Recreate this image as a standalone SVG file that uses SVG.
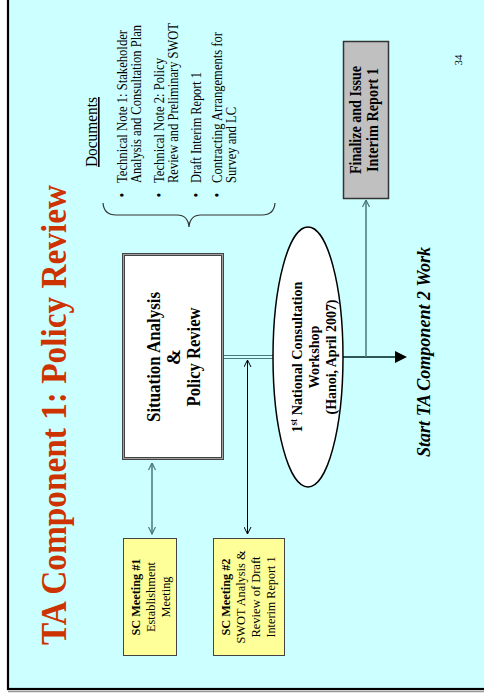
<svg xmlns="http://www.w3.org/2000/svg" width="484" height="700" viewBox="0 0 484 700">
  <style>
    text { font-family: "Liberation Serif", "Times New Roman", serif; fill: #000; }
    .b { font-weight: bold; }
    .title { font-size: 36px; font-weight: bold; fill: #CC3300; }
    .doc { font-size: 14px; }
    .sc { font-size: 13px; }
    .teal { stroke: #4A7777; fill: none; }
    .blk { stroke: #000; fill: none; }
  </style>
  <defs>
    <marker id="chevTeal" viewBox="0 0 8 8" refX="7.5" refY="4" markerWidth="8" markerHeight="8" markerUnits="userSpaceOnUse" orient="auto-start-reverse">
      <path d="M0.5,0.5 L7.5,4 L0.5,7.5" fill="none" stroke="#4A7777" stroke-width="1.2"/>
    </marker>
    <marker id="chevBlack" viewBox="0 0 8 8" refX="7.5" refY="4" markerWidth="8" markerHeight="8" markerUnits="userSpaceOnUse" orient="auto-start-reverse">
      <path d="M0.5,0.5 L7.5,4 L0.5,7.5" fill="none" stroke="#000" stroke-width="1"/>
    </marker>
  </defs>

  <!-- page and slide background -->
  <rect x="0" y="0" width="484" height="700" fill="#FFFFFF"/>
  <line x1="8" y1="691.5" x2="484" y2="691.5" stroke="#999" stroke-width="1.5"/>
  <rect x="8" y="-10" width="490" height="699" fill="#CCFFFF" stroke="#000" stroke-width="2.2"/>

  <!-- title -->
  <text class="title" transform="translate(66,645) rotate(-90)" textLength="460" lengthAdjust="spacingAndGlyphs">TA Component 1: Policy Review</text>

  <!-- page number -->
  <text transform="translate(462,60) rotate(-90)" text-anchor="middle" font-size="11" fill="#333">34</text>

  <!-- connectors -->
  <g id="connectors">
    <line x1="223" y1="355.5" x2="276" y2="355.5" stroke="#4A7777" stroke-width="1"/>
    <line x1="223" y1="358.5" x2="276" y2="358.5" stroke="#4A7777" stroke-width="1"/>
    <line x1="340" y1="357" x2="396" y2="357" stroke="#2F5555" stroke-width="2"/>
    <polygon points="395,351 407,357 395,363" fill="#000"/>
    <line class="teal" x1="366" y1="357" x2="366" y2="200" stroke-width="1.5" marker-end="url(#chevTeal)"/>
    <line class="teal" x1="152" y1="463" x2="152" y2="534" stroke-width="1.5" marker-start="url(#chevTeal)" marker-end="url(#chevTeal)"/>
    <line class="blk" x1="247.5" y1="360" x2="247.5" y2="534" stroke-width="1" marker-start="url(#chevBlack)" marker-end="url(#chevBlack)"/>
  </g>

  <!-- documents list -->
  <g id="documents">
    <text transform="translate(97,132) rotate(-90)" text-anchor="middle" font-size="16" text-decoration="underline" textLength="70" lengthAdjust="spacingAndGlyphs">Documents</text>
    <text class="doc" transform="translate(126.5,197.5) rotate(-90)">•</text>
    <text class="doc" transform="translate(126.5,183) rotate(-90)" textLength="153" lengthAdjust="spacingAndGlyphs">Technical Note 1: Stakeholder</text>
    <text class="doc" transform="translate(140.5,183) rotate(-90)" textLength="158" lengthAdjust="spacingAndGlyphs">Analysis and Consultation Plan</text>
    <text class="doc" transform="translate(163.5,197.5) rotate(-90)">•</text>
    <text class="doc" transform="translate(163.5,183) rotate(-90)" textLength="125" lengthAdjust="spacingAndGlyphs">Technical Note 2: Policy</text>
    <text class="doc" transform="translate(177.5,183) rotate(-90)" textLength="160" lengthAdjust="spacingAndGlyphs">Review and Preliminary SWOT</text>
    <text class="doc" transform="translate(200.5,197.5) rotate(-90)">•</text>
    <text class="doc" transform="translate(200.5,183) rotate(-90)" textLength="111" lengthAdjust="spacingAndGlyphs">Draft Interim Report 1</text>
    <text class="doc" transform="translate(222,197.5) rotate(-90)">•</text>
    <text class="doc" transform="translate(222,183) rotate(-90)" textLength="151" lengthAdjust="spacingAndGlyphs">Contracting Arrangements for</text>
    <text class="doc" transform="translate(236,183) rotate(-90)" textLength="76" lengthAdjust="spacingAndGlyphs">Survey and LC</text>
    <path d="M103,203 Q104,215 116,215 L177,215 Q188,215 189,227 Q190,215 201,215 L262,215 Q274,215 275,203" fill="none" stroke="#333" stroke-width="1.2"/>
  </g>

  <!-- situation analysis box -->
  <g id="situation">
    <rect x="123.5" y="254.5" width="99" height="204" fill="#FFFFFF" stroke="#444" stroke-width="3"/>
    <rect x="123.5" y="254.5" width="99" height="204" fill="none" stroke="#A0A0A0" stroke-width="1"/>
    <g transform="translate(0,357) rotate(-90)" text-anchor="middle" font-size="19">
      <text class="b" x="0" y="160" textLength="130" lengthAdjust="spacingAndGlyphs">Situation Analysis</text>
      <text class="b" x="0" y="180">&amp;</text>
      <text class="b" x="0" y="200" textLength="99" lengthAdjust="spacingAndGlyphs">Policy Review</text>
    </g>
  </g>

  <!-- consultation workshop -->
  <g id="workshop">
    <ellipse cx="308" cy="357" rx="35" ry="130" fill="#FFFFFF" stroke="#000" stroke-width="1.5"/>
    <g transform="translate(0,357) rotate(-90)" text-anchor="middle" font-size="15">
      <text class="b" x="0" y="302" textLength="151" lengthAdjust="spacingAndGlyphs">1<tspan font-size="9.5" dy="-5.5">st</tspan><tspan dy="5.5"> National Consultation</tspan></text>
      <text class="b" x="0" y="319" textLength="63" lengthAdjust="spacingAndGlyphs">Workshop</text>
      <text class="b" x="0" y="336" textLength="115" lengthAdjust="spacingAndGlyphs">(Hanoi, April 2007)</text>
    </g>
  </g>

  <!-- final report box -->
  <g id="finalize">
    <rect x="343.5" y="41.5" width="45" height="157" fill="#C0C0C0" stroke="#333" stroke-width="1.5"/>
    <g transform="translate(0,120) rotate(-90)" text-anchor="middle" font-size="16">
      <text class="b" x="0" y="361" textLength="108" lengthAdjust="spacingAndGlyphs">Finalize and Issue</text>
      <text class="b" x="0" y="378" textLength="104" lengthAdjust="spacingAndGlyphs">Interim Report 1</text>
    </g>
  </g>

  <!-- next step -->
  <g id="next">
    <text transform="translate(429.5,352) rotate(-90)" text-anchor="middle" font-size="19" font-weight="bold" font-style="italic" textLength="210" lengthAdjust="spacingAndGlyphs">Start TA Component 2 Work</text>
  </g>

  <!-- steering committee meetings -->
  <g id="sc1">
    <rect x="123.5" y="538.5" width="53" height="117" fill="#FFFF99" stroke="#444" stroke-width="1"/>
    <g transform="translate(0,597) rotate(-90)" text-anchor="middle" class="sc">
      <text class="sc b" x="0" y="139.5" textLength="77" lengthAdjust="spacingAndGlyphs">SC Meeting #1</text>
      <text class="sc" x="0" y="154.5" textLength="70" lengthAdjust="spacingAndGlyphs">Establishment</text>
      <text class="sc" x="0" y="169.5" textLength="41" lengthAdjust="spacingAndGlyphs">Meeting</text>
    </g>
  </g>
  <g id="sc2">
    <rect x="213.5" y="538.5" width="71" height="117" fill="#FFFF99" stroke="#444" stroke-width="1"/>
    <g transform="translate(0,597) rotate(-90)" text-anchor="middle" class="sc">
      <text class="sc b" x="0" y="229.5" textLength="77" lengthAdjust="spacingAndGlyphs">SC Meeting #2</text>
      <text class="sc" x="0" y="244.5" textLength="93" lengthAdjust="spacingAndGlyphs">SWOT Analysis &amp;</text>
      <text class="sc" x="0" y="259.5" textLength="81" lengthAdjust="spacingAndGlyphs">Review of Draft</text>
      <text class="sc" x="0" y="274.5" textLength="81" lengthAdjust="spacingAndGlyphs">Interim Report 1</text>
    </g>
  </g>
</svg>
